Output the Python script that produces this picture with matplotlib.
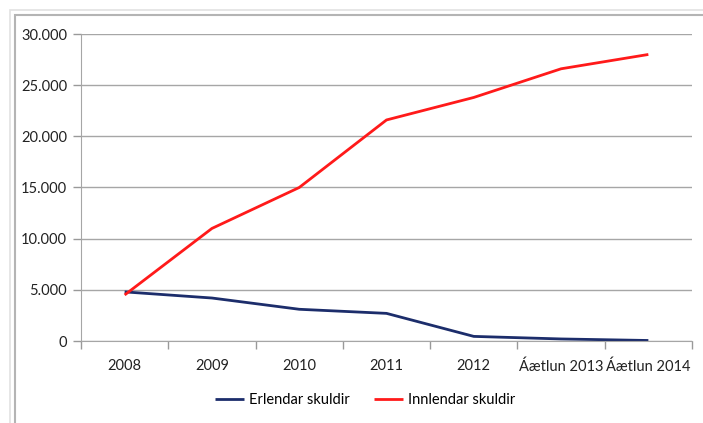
import numpy as np
import matplotlib.pyplot as plt
from matplotlib.patches import Rectangle
from matplotlib.ticker import FuncFormatter

plt.rcParams['font.family'] = ['Lato', 'DejaVu Sans']

years = ["2008", "2009", "2010", "2011", "2012", "Áætlun 2013", "Áætlun 2014"]
erlendar = [4800, 4200, 3100, 2700, 450, 200, 50]
innlendar = [4500, 11000, 15000, 21600, 23800, 26600, 28000]

W, H = 703, 423
fig = plt.figure(figsize=(W / 100, H / 100), dpi=100)

# frame around the chart
fig.patches.append(Rectangle((10 / W, -0.1), 1.2, (H - 10) / H + 0.1, transform=fig.transFigure,
                             fill=False, edgecolor="#e2e2e2", lw=1.2))
fig.patches.append(Rectangle((14.5 / W, -0.1), 1.2, (H - 15) / H + 0.1, transform=fig.transFigure,
                             fill=False, edgecolor="#b4b4b4", lw=1.5))

ax = fig.add_axes([81 / W, 1 - 341 / H, (692 - 81) / W, (341 - 34) / H])
x = np.arange(len(years))
ax.plot(x, erlendar, color="#1c2d6b", lw=2, label="Erlendar skuldir", solid_capstyle="butt")
ax.plot(x, innlendar, color="#ff1a1a", lw=2, label="Innlendar skuldir", solid_capstyle="butt")

ax.set_xlim(-0.5, len(years) - 0.5)
ax.set_ylim(0, 30000)
ax.set_yticks(np.arange(0, 30001, 5000))
ax.yaxis.set_major_formatter(FuncFormatter(lambda v, p: f"{int(v):,}".replace(",", ".")))
ax.set_xticks(x)
ax.set_xticklabels(years)
ax.set_xticks(np.arange(-0.5, len(years)), minor=True)
ax.tick_params(axis="x", which="major", length=0, pad=13, labelsize=10.5, colors="#222222")
ax.tick_params(axis="x", which="minor", length=6, color="#999999", width=1)
ax.tick_params(axis="y", length=6, color="#999999", width=1, labelsize=10.5, colors="#222222", pad=4)
ax.yaxis.grid(True, color="#a6a6a6", lw=1)
ax.set_axisbelow(True)
for s in ["top", "right"]:
    ax.spines[s].set_visible(False)
ax.spines["left"].set_color("#a6a6a6")
ax.spines["bottom"].set_color("#a6a6a6")

ax.legend(loc="center", bbox_to_anchor=(365 / W, 1 - 400 / H), bbox_transform=fig.transFigure,
          ncol=2, frameon=False, fontsize=10.5, handlelength=2.0, handletextpad=0.3,
          columnspacing=1.7)

fig.savefig("out.png", dpi=100)
